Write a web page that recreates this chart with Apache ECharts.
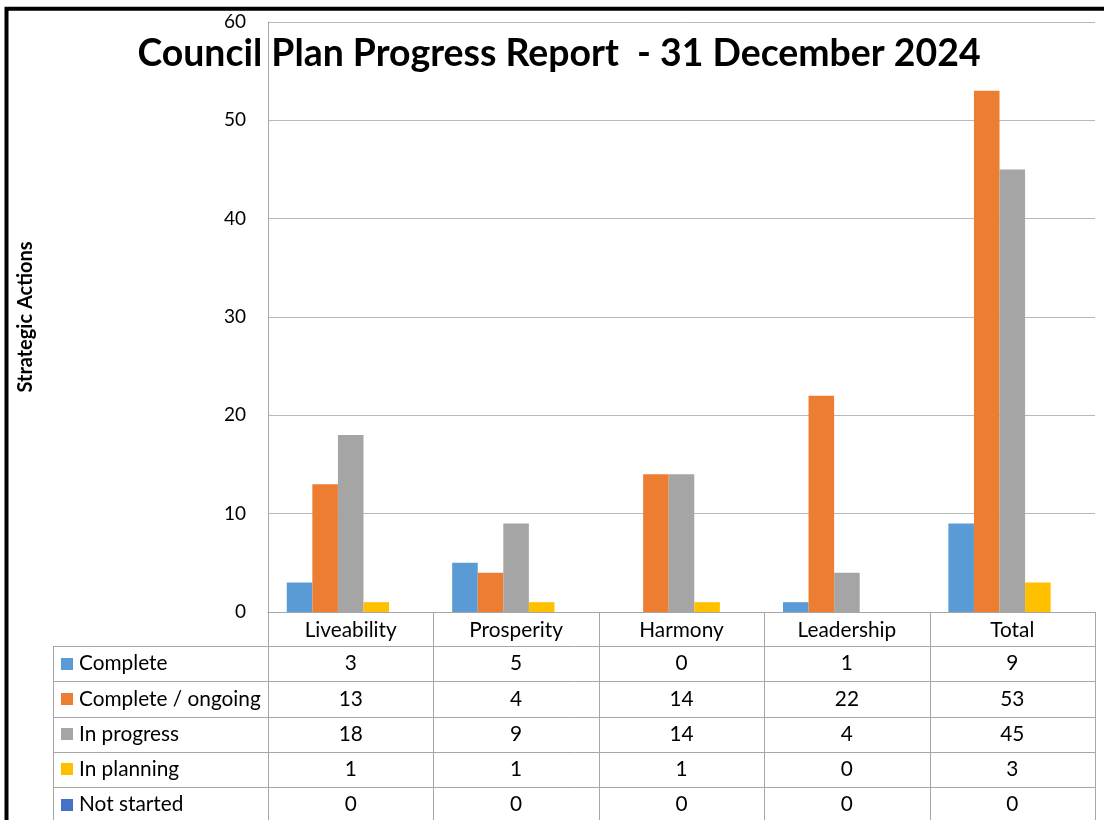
<!DOCTYPE html>
<html><head><meta charset="utf-8">
<script src="https://cdn.jsdelivr.net/npm/echarts@6/dist/echarts.min.js"></script>
<style>html,body{margin:0;padding:0;background:#fff}#c{width:1104px;height:820px}</style>
</head><body><div id="c"></div>
<script>
// ---- data ----
const categories = ['Liveability', 'Prosperity', 'Harmony', 'Leadership', 'Total'];
const seriesNames = ['Complete', 'Complete / ongoing', 'In progress', 'In planning', 'Not started'];
const complete = [3, 5, 0, 1, 9];
const completeOngoing = [13, 4, 14, 22, 53];
const inProgress = [18, 9, 14, 4, 45];
const inPlanning = [1, 1, 1, 0, 3];
const notStarted = [0, 0, 0, 0, 0];
const seriesColors = ['#5b9bd5', '#ed7d31', '#a5a5a5', '#ffc000', '#4472c4'];
const titleText = 'Council Plan Progress Report  - 31 December 2024';
const yAxisTitle = 'Strategic Actions';
const yMin = 0, yMax = 60, yStep = 10;

const seriesValues = [complete, completeOngoing, inProgress, inPlanning, notStarted];

// ---- layout ----
const FONT = 'Lato';
const W = 1104, H = 820;
const G = { left: 268, right: 1095, top: 22, bottom: 612 };
const tableLeft = 53, headerBottom = 646, rowH = 35.25;
const lineCol = '#a6a6a6';
const tableFont = 20.8;

const chart = echarts.init(document.getElementById('c'), null, { renderer: 'canvas' });

chart.setOption({
  animation: false,
  backgroundColor: '#fff',
  title: {
    text: titleText, left: 559, top: 30, textAlign: 'center',
    textStyle: { fontFamily: FONT, fontWeight: 'bold', fontSize: 37.4, color: '#000' }
  },
  grid: { left: G.left, right: W - G.right, top: G.top, bottom: H - G.bottom },
  xAxis: {
    type: 'category', data: categories,
    axisLine: { lineStyle: { color: lineCol, width: 1 } },
    axisTick: { show: false },
    axisLabel: { fontFamily: FONT, fontSize: tableFont, color: '#000', margin: 8 }
  },
  yAxis: {
    type: 'value', min: yMin, max: yMax, interval: yStep,
    axisLine: { show: true, lineStyle: { color: lineCol, width: 1 } },
    axisTick: { show: false },
    splitLine: { lineStyle: { color: '#b8b8b8', width: 1 } },
    axisLabel: { fontFamily: FONT, fontSize: 19, color: '#000', margin: 22 }
  },
  series: seriesNames.map((n, i) => ({
    name: n, type: 'bar', data: seriesValues[i],
    barGap: '0%', barCategoryGap: '22.7%',
    itemStyle: { color: seriesColors[i] }
  }))
});

// ---- data table drawn from the same arrays, positioned via axis scale ----
const centers = categories.map((c, i) => chart.convertToPixel({ xAxisIndex: 0 }, i));
const band = centers.length > 1 ? centers[1] - centers[0] : (G.right - G.left);
const bounds = [centers[0] - band / 2].concat(centers.map(c => c + band / 2));
const tableBottom = headerBottom + rowH * seriesNames.length;

const gfx = [];
const px = v => Math.round(v) + 0.5;
// vertical lines
bounds.forEach(b => {
  gfx.push({ type: 'line', shape: { x1: px(b), y1: G.bottom, x2: px(b), y2: tableBottom + 5 },
    style: { stroke: lineCol, lineWidth: 1 }, z: 10 });
});
gfx.push({ type: 'line', shape: { x1: px(tableLeft), y1: headerBottom, x2: px(tableLeft), y2: tableBottom + 5 },
  style: { stroke: lineCol, lineWidth: 1 }, z: 10 });
// horizontal lines
for (let r = 0; r <= seriesNames.length; r++) {
  const y = px(headerBottom + r * rowH);
  gfx.push({ type: 'line', shape: { x1: px(tableLeft), y1: y, x2: px(bounds[bounds.length - 1]), y2: y },
    style: { stroke: lineCol, lineWidth: 1 }, z: 10 });
}
// rows
seriesNames.forEach((n, r) => {
  const cy = headerBottom + (r + 0.5) * rowH;
  gfx.push({ type: 'rect', shape: { x: 61, y: Math.round(cy - 6), width: 12, height: 12 },
    style: { fill: seriesColors[r] }, z: 10 });
  gfx.push({ type: 'text', x: 79, y: cy,
    style: { text: n, font: tableFont + 'px ' + FONT, fill: '#000', textAlign: 'left', textVerticalAlign: 'middle' }, z: 10 });
  seriesValues[r].forEach((v, i) => {
    gfx.push({ type: 'text', x: centers[i], y: cy,
      style: { text: String(v), font: tableFont + 'px ' + FONT, fill: '#000', textAlign: 'center', textVerticalAlign: 'middle' }, z: 10 });
  });
});
// y axis title
gfx.push({ type: 'text', x: 26, y: 317, rotation: Math.PI / 2,
  style: { text: yAxisTitle, font: 'bold 20px ' + FONT, fill: '#000', textAlign: 'center', textVerticalAlign: 'middle' }, z: 10 });
// outer frame
gfx.push({ type: 'rect', shape: { x: 6.5, y: 8.7, width: 1300, height: 1000 },
  style: { fill: null, stroke: '#000', lineWidth: 4 }, z: 20, silent: true });

chart.setOption({ graphic: gfx });
chart.setOption({ title: { left: 554 } });
</script></body></html>
